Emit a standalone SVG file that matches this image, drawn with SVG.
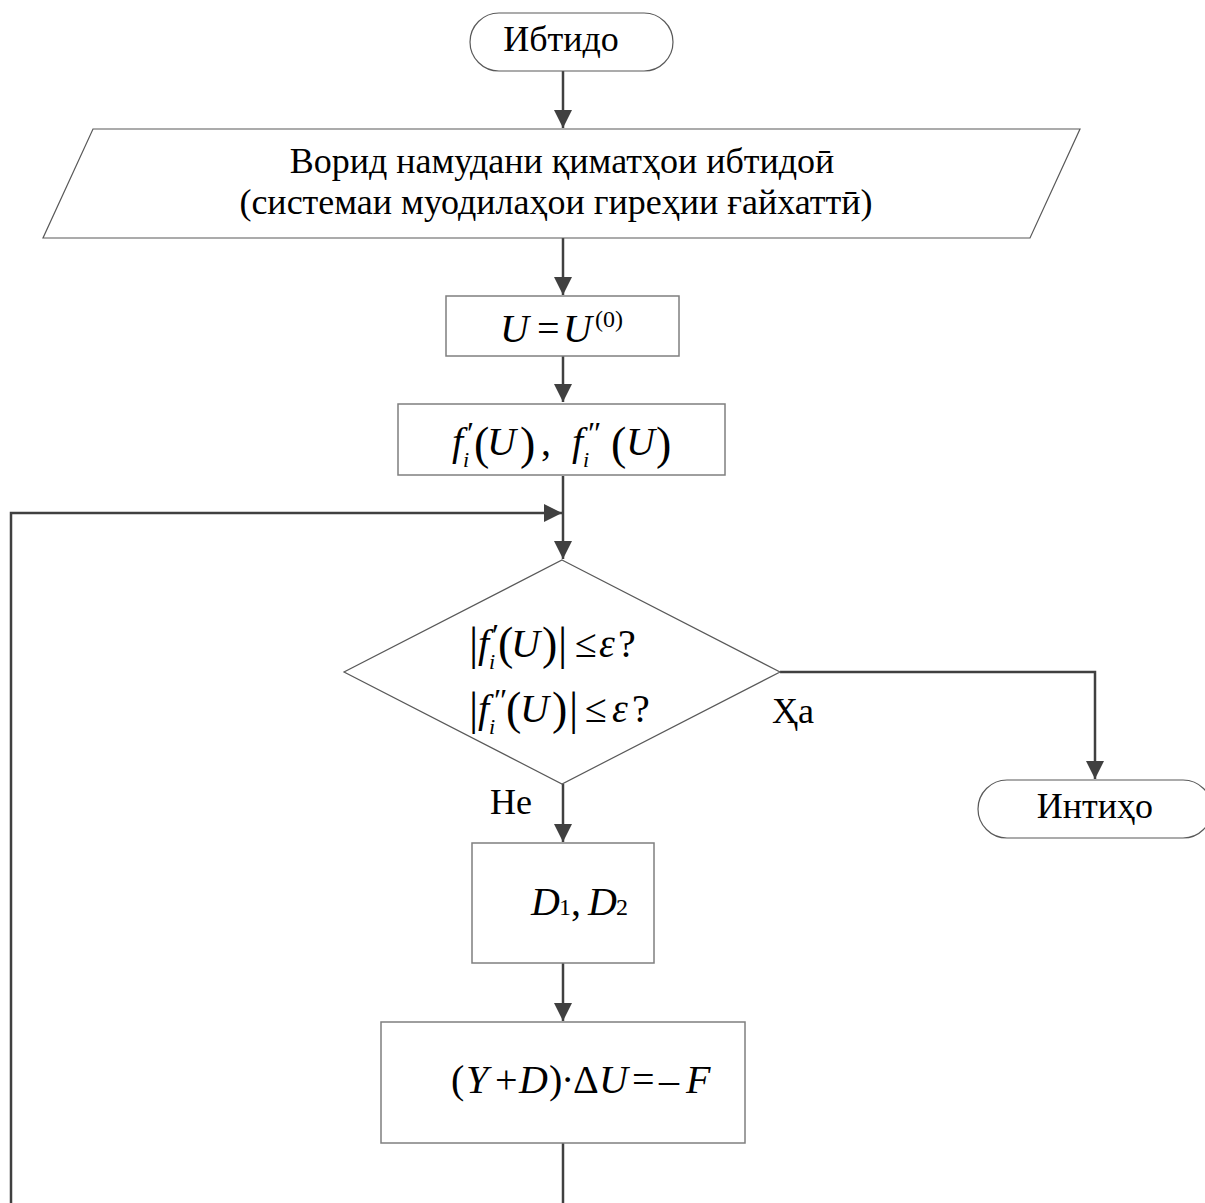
<svg xmlns="http://www.w3.org/2000/svg" width="1205" height="1203" viewBox="0 0 1205 1203">
<style>
.node{fill:#fff;stroke:#7f7f7f;stroke-width:1.5}
.thin{fill:#fff;stroke:#595959;stroke-width:1.2}
.conn{fill:none;stroke:#404040;stroke-width:2.5}
.t{font-family:"Liberation Serif","Times New Roman",serif;font-size:36px;fill:#000}
.m{font-family:"Liberation Serif","Times New Roman","DejaVu Serif",serif;font-size:40px;fill:#000}
.i{font-style:italic}
.s{font-size:22px}
.p{font-size:46px}
.pr{font-size:32px}
</style>
<defs>
<marker id="arr" markerUnits="userSpaceOnUse" markerWidth="18" markerHeight="18" viewBox="0 0 18 18" refX="18" refY="9" orient="auto">
<path d="M0,0 L18,9 L0,18 Z" fill="#404040"/>
</marker>
</defs>
<rect width="1205" height="1203" fill="#fff"/>
<g id="connectors">
<line class="conn" x1="563" y1="71" x2="563" y2="128" marker-end="url(#arr)"/>
<line class="conn" x1="563" y1="238" x2="563" y2="295" marker-end="url(#arr)"/>
<line class="conn" x1="563" y1="356" x2="563" y2="402" marker-end="url(#arr)"/>
<line class="conn" x1="563" y1="476" x2="563" y2="559" marker-end="url(#arr)"/>
<polyline class="conn" points="11,1203 11,513 562,513" marker-end="url(#arr)"/>
<polyline class="conn" points="780,672 1095,672 1095,779" marker-end="url(#arr)"/>
<line class="conn" x1="563" y1="784" x2="563" y2="842" marker-end="url(#arr)"/>
<line class="conn" x1="563" y1="963" x2="563" y2="1021" marker-end="url(#arr)"/>
<line class="conn" x1="563" y1="1143" x2="563" y2="1203"/>
<text class="t" x="772" y="723">Ҳа</text>
<text class="t" x="490" y="814">Не</text>
</g>
<g id="start">
<rect class="thin" x="470" y="13" width="203" height="58" rx="29"/>
<text class="t" x="561" y="51" text-anchor="middle">Ибтидо</text>
</g>
<g id="input">
<polygon class="thin" points="93,129 1080,129 1030,238 43,238"/>
<text class="t" x="562" y="173" text-anchor="middle">Ворид намудани қиматҳои ибтидоӣ</text>
<text class="t" x="556" y="214" text-anchor="middle">(системаи муодилаҳои гиреҳии ғайхаттӣ)</text>
</g>
<g id="init">
<rect class="node" x="446" y="296" width="233" height="60"/>
<text class="m" y="342"><tspan class="i" x="500">U</tspan><tspan x="537">=</tspan><tspan class="i" x="563">U</tspan><tspan font-size="24" x="595" y="327">(0)</tspan></text>
</g>
<g id="derivs">
<rect class="node" x="398" y="404" width="327" height="71"/>
<text class="m" y="455"><tspan class="i" x="452">f</tspan><tspan class="pr" x="467" y="444">′</tspan><tspan class="i s" x="463" y="467">i</tspan><tspan class="p" x="474" y="459">(</tspan><tspan class="i" x="487" y="455">U</tspan><tspan class="p" x="520" y="459">)</tspan><tspan x="541" y="455">,</tspan><tspan class="i" x="572">f</tspan><tspan class="pr" x="588" y="444">″</tspan><tspan class="i s" x="583" y="467">i</tspan><tspan class="p" x="611" y="459">(</tspan><tspan class="i" x="626" y="455">U</tspan><tspan class="p" x="656" y="459">)</tspan></text>
</g>
<g id="check">
<polygon class="thin" points="562,560 780,672 562,784 344,672"/>
<text class="m" y="657"><tspan class="p" x="469" y="659">|</tspan><tspan class="i" x="478" y="657">f</tspan><tspan class="pr" x="492" y="646">′</tspan><tspan class="i s" x="489" y="669">i</tspan><tspan class="p" x="498" y="659">(</tspan><tspan class="i" x="511" y="657">U</tspan><tspan class="p" x="542" y="659">)</tspan><tspan class="p" x="558" y="659">|</tspan><tspan x="575" y="657">≤</tspan><tspan class="i" x="599">ε</tspan><tspan x="618">?</tspan></text>
<text class="m" y="722"><tspan class="p" x="469" y="724">|</tspan><tspan class="i" x="478" y="722">f</tspan><tspan class="pr" x="494" y="711">″</tspan><tspan class="i s" x="489" y="734">i</tspan><tspan class="p" x="506" y="724">(</tspan><tspan class="i" x="520" y="722">U</tspan><tspan class="p" x="552" y="724">)</tspan><tspan class="p" x="569" y="724">|</tspan><tspan x="585" y="722">≤</tspan><tspan class="i" x="612">ε</tspan><tspan x="632">?</tspan></text>
</g>
<g id="end">
<rect class="thin" x="978" y="780" width="234" height="58" rx="29"/>
<text class="t" x="1095" y="818" text-anchor="middle">Интиҳо</text>
</g>
<g id="dcalc">
<rect class="node" x="472" y="843" width="182" height="120"/>
<text class="m" y="915"><tspan class="i" x="531">D</tspan><tspan font-size="24" x="559">1</tspan><tspan x="571">,</tspan><tspan class="i" x="588">D</tspan><tspan font-size="24" x="616">2</tspan></text>
</g>
<g id="solve">
<rect class="node" x="381" y="1022" width="364" height="121"/>
<text class="m" y="1093"><tspan x="451">(</tspan><tspan class="i" x="466">Y</tspan><tspan x="495">+</tspan><tspan class="i" x="519">D</tspan><tspan x="549">)</tspan><tspan x="561">·</tspan><tspan x="573">Δ</tspan><tspan class="i" x="599">U</tspan><tspan x="632">=</tspan><tspan x="659">–</tspan><tspan class="i" x="686">F</tspan></text>
</g>
</svg>
